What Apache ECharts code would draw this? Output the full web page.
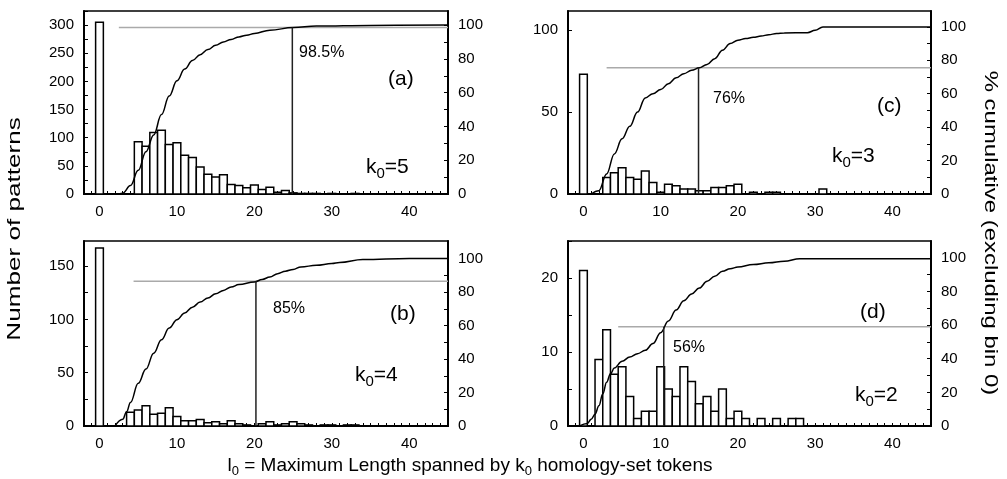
<!DOCTYPE html>
<html>
<head>
<meta charset="utf-8">
<script src="https://cdn.jsdelivr.net/npm/echarts@6/dist/echarts.min.js"></script>
<style>
  html, body { margin: 0; padding: 0; background: #fff; }
  #chart { width: 1007px; height: 479px; }
</style>
</head>
<body>
<div id="chart"></div>
<script>
/* histogram of pattern lengths for k0 = 5,4,3,2 + cumulative % curve */

// panel order: (a) (b) (c) (d)
const panelNames = ['(a)', '(b)', '(c)', '(d)'];
const k0Values   = ['5', '4', '3', '2'];

const xTickLabels   = [0, 10, 20, 30, 40];
const pctTickLabels = [0, 20, 40, 60, 80, 100];

// counts per bin (index = bin l0)
const countsA = [305, 0, 0, 0, 0, 93, 85, 109, 113, 88, 91, 69, 65, 48, 35, 30, 34, 17, 15, 11, 16, 8, 12, 3, 6, 2, 1, 1, 1, 0, 1, 0, 0, 1];
const countsB = [167, 0, 0, 0, 13, 15, 19, 11, 12, 17, 9, 5, 5, 6, 3, 4, 2, 5, 2, 1, 0, 2, 4, 1, 2, 4, 2, 1, 0, 1, 1, 0, 1, 1];
const countsC = [73, 0, 0, 10, 13, 16, 10, 9, 14, 7, 1, 6, 5, 3, 3, 2, 2, 4, 4, 5, 6, 0, 1, 0, 1, 1, 0, 0, 0, 0, 0, 3];
const countsD = [21, 0, 9, 13, 7, 8, 4, 1, 2, 2, 8, 5, 4, 8, 6, 3, 4, 2, 5, 1, 2, 1, 0, 1, 0, 1, 0, 1, 1];

// cumulative % (excluding bin 0)
const cumA = [[2.5, 0], [3, 0.5], [4, 5], [5, 14], [6, 25], [7, 35], [8, 47], [9, 58], [10, 67], [11, 74], [12, 79], [13, 82.5], [14, 85.5], [15, 88], [16, 90], [17, 91.5], [18, 93], [19, 94], [20, 95], [22, 97], [25, 98.5], [28, 99.4], [35, 99.8], [45, 100]];
const cumB = [[2, 0], [3, 4], [3.5, 8.5], [4, 14], [5, 25.5], [6, 34], [7, 43.5], [8, 51.5], [9, 58.5], [10, 63.5], [11, 67.5], [12, 71], [13, 74], [14, 76.5], [15, 79], [16, 81], [17, 83], [18, 84.5], [20, 86], [21, 87.5], [22, 89], [23, 91], [24, 92.5], [25, 93.5], [26, 95], [28, 96], [30, 97], [31, 97.6], [34, 99.4], [40, 100], [45, 100]];
const cumC = [[1, 0], [2, 2], [3, 12], [4, 24], [5, 33], [6, 40.5], [7, 49], [8, 57.5], [9, 60], [10, 62.5], [11, 66], [12, 69.5], [13, 72], [14, 74], [15, 75.5], [16, 77.5], [17, 81], [18, 86], [19, 90], [20, 92], [21, 93], [22, 93.8], [23, 94.5], [24, 95.3], [25, 96], [26, 96.4], [29, 96.5], [30, 98], [31, 100], [45, 100]];
const cumD = [[-0.5, 0], [0.5, 1.5], [1, 4], [1.5, 7], [2, 12], [2.5, 19], [3, 26], [3.5, 31], [4, 34.5], [5, 38.5], [6, 41], [7, 43], [8, 45], [9, 49], [10, 55.5], [11, 62.5], [12, 69], [13, 74.5], [14, 78.5], [15, 82], [16, 86], [17, 89], [18, 92], [19, 93.5], [20, 94.5], [22, 96], [24, 97], [26, 98], [28, 99.5], [45, 99.5]];

// cut-off markers
const cutLabels = ['98.5%', '85%', '76%', '56%'];
const cutX      = [24.9, 20.2, 14.9, 10.4];
const cutPct    = [98.5, 86.5, 75.5, 59];
const cutFrom   = [2.5, 4.4, 3.0, 4.5];

// left axis labels / tick step / range
const countLabels = [[0, 50, 100, 150, 200, 250, 300], [0, 50, 100, 150], [0, 50, 100], [0, 10, 20]];
const countTickStep = [25, 25, 50, 5];
const countMax = [325, 173.5, 111.5, 25];
const pctMax   = [108.33, 110.5, 109.5, 110];

const allCounts = [countsA, countsB, countsC, countsD];
const allCum    = [cumA, cumB, cumC, cumD];

/* layout */
const FONT = "'Liberation Sans', Arial, sans-serif";
const grids = [
  { left: 84,  top: 11,  width: 364, height: 183 },
  { left: 84,  top: 241, width: 364, height: 185 },
  { left: 568, top: 11,  width: 363, height: 183 },
  { left: 568, top: 241, width: 363, height: 185 },
];
const textPos = [
  { pct: [299, 45],  name: [388, 69],  k: [366, 157] },
  { pct: [273, 301], name: [390, 304], k: [355, 365] },
  { pct: [713, 91],  name: [877, 96],  k: [832, 146] },
  { pct: [673, 340], name: [860, 302], k: [855, 385] },
];

const range = (a, b, s) => { const r = []; for (let v = a; v <= b + 1e-9; v += s) r.push(v); return r; };

const blackLine = { show: true, onZero: false, lineStyle: { color: '#000', width: 2 } };
const labelStyle = { color: '#000', fontSize: 15, fontFamily: FONT };

const xAxes = [], yAxes = [], series = [], graphics = [];

grids.forEach((g, i) => {
  xAxes.push({
    type: 'value', gridIndex: i, min: -2, max: 45,
    axisLine: blackLine,
    axisTick: { inside: true, length: 3, customValues: range(-2, 45, 1), lineStyle: { color: '#000' } },
    axisLabel: Object.assign({ customValues: xTickLabels, margin: 10 }, labelStyle),
    splitLine: { show: false },
  });
  yAxes.push({
    type: 'value', gridIndex: i, min: 0, max: countMax[i], position: 'left',
    axisLine: blackLine,
    axisTick: { inside: true, length: 4, customValues: range(0, countMax[i], countTickStep[i]), lineStyle: { color: '#000' } },
    axisLabel: Object.assign({ customValues: countLabels[i], margin: 10 }, labelStyle),
    splitLine: { show: false },
  });
  yAxes.push({
    type: 'value', gridIndex: i, min: 0, max: pctMax[i], position: 'right',
    axisLine: blackLine,
    axisTick: { inside: true, length: 4, customValues: range(0, 100, 10), lineStyle: { color: '#000' } },
    axisLabel: Object.assign({ customValues: pctTickLabels, margin: 10 }, labelStyle),
    splitLine: { show: false },
  });

  // histogram bars, one unit wide
  series.push({
    type: 'custom', xAxisIndex: i, yAxisIndex: 2 * i,
    data: allCounts[i].map((v, bin) => [bin, v]),
    encode: { x: 0, y: 1 },
    renderItem: (params, api) => {
      const v = api.value(1);
      if (!v) return;
      const x = api.value(0);
      const p0 = api.coord([x - 0.5, v]);
      const p1 = api.coord([x + 0.5, 0]);
      return {
        type: 'rect',
        shape: { x: p0[0], y: p0[1], width: p1[0] - p0[0], height: p1[1] - p0[1] },
        style: { fill: '#fff', stroke: '#000', lineWidth: 1.5 },
      };
    },
    z: 2,
  });
  // grey level line
  series.push({
    type: 'line', xAxisIndex: i, yAxisIndex: 2 * i + 1,
    data: [[cutFrom[i], cutPct[i]], [45, cutPct[i]]],
    symbol: 'none', lineStyle: { color: '#aaa', width: 1.5 }, z: 3,
  });
  // cumulative curve
  series.push({
    type: 'line', xAxisIndex: i, yAxisIndex: 2 * i + 1,
    data: allCum[i], smooth: 0.4, smoothMonotone: 'x',
    symbol: 'none', lineStyle: { color: '#000', width: 1.5 }, z: 4,
  });
  // vertical cut line
  series.push({
    type: 'line', xAxisIndex: i, yAxisIndex: 2 * i + 1,
    data: [[cutX[i], 0], [cutX[i], cutPct[i]]],
    symbol: 'none', lineStyle: { color: '#222', width: 1.5 }, z: 4,
  });

  const t = textPos[i];
  graphics.push({
    type: 'text', left: t.pct[0], top: t.pct[1],
    style: { text: cutLabels[i], font: `16px ${FONT}`, fill: '#000' },
  });
  graphics.push({
    type: 'text', left: t.name[0], top: t.name[1],
    style: { text: panelNames[i], font: `21px ${FONT}`, fill: '#000' },
  });
  graphics.push({
    type: 'text', left: t.k[0], top: t.k[1],
    style: {
      text: `{m|k}{s|0}{m|=${k0Values[i]}}`,
      rich: {
        m: { fontSize: 21, fontFamily: FONT, fill: '#000' },
        s: { fontSize: 15, fontFamily: FONT, fill: '#000', padding: [12, 0, 0, 0] },
      },
    },
  });
});

// axis titles (stretched along their length, like the original)
graphics.push({
  type: 'text', x: 15, y: 229, rotation: Math.PI / 2, scaleX: 1.45,
  style: { text: 'Number of patterns', font: `18px ${FONT}`, fill: '#000', align: 'center', verticalAlign: 'middle' },
});
graphics.push({
  type: 'text', x: 990, y: 233, rotation: -Math.PI / 2, scaleX: 1.33,
  style: { text: '% cumulative (excluding bin 0)', font: `18px ${FONT}`, fill: '#000', align: 'center', verticalAlign: 'middle' },
});
graphics.push({
  type: 'text', x: 470, y: 466,
  style: {
    text: '{m|l}{s|0}{m| = Maximum Length spanned by k}{s|0}{m| homology-set tokens}',
    align: 'center', verticalAlign: 'middle',
    rich: {
      m: { fontSize: 19, fontFamily: FONT, fill: '#000' },
      s: { fontSize: 13, fontFamily: FONT, fill: '#000', padding: [10, 0, 0, 0] },
    },
  },
});

const chart = echarts.init(document.getElementById('chart'), null, { renderer: 'canvas' });
chart.setOption({
  animation: false,
  backgroundColor: '#fff',
  grid: grids.map(g => Object.assign({ show: true, borderColor: '#000', borderWidth: 1.5, backgroundColor: 'transparent' }, g)),
  xAxis: xAxes,
  yAxis: yAxes,
  series: series,
  graphic: graphics,
});
</script>
</body>
</html>
